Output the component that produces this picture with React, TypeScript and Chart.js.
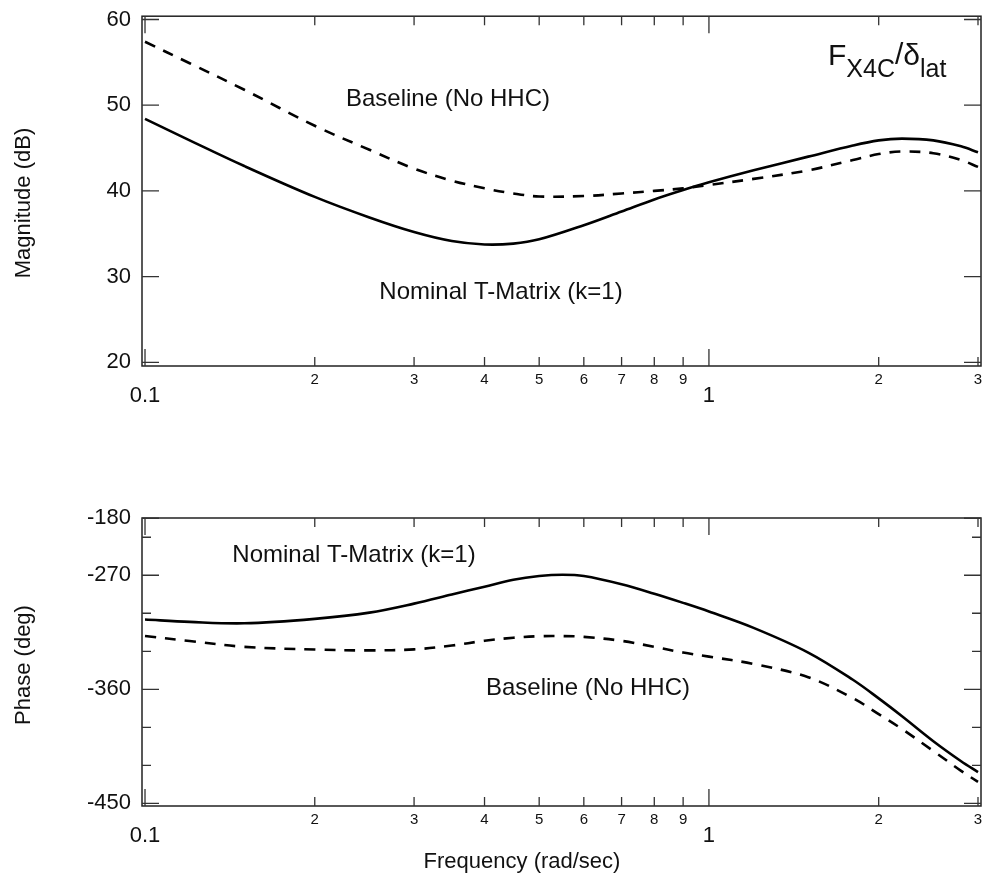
import React, { useEffect, useRef } from "react";
import { Chart, registerables } from "chart.js";

Chart.register(...registerables);

const FONT = '"Liberation Sans", Arial, Helvetica, sans-serif';

// ---------- data ----------
const magFreq = [0.1, 0.12, 0.15, 0.2, 0.25, 0.3, 0.35, 0.4, 0.45, 0.5, 0.6, 0.7, 0.8, 0.9, 1.0, 1.2, 1.5, 1.8, 2.0, 2.2, 2.5, 2.8, 3.0];
const magBaseline = [57.4, 54.9, 51.8, 47.6, 44.8, 42.6, 41.2, 40.3, 39.7, 39.35, 39.4, 39.7, 40.0, 40.3, 40.7, 41.4, 42.4, 43.6, 44.3, 44.6, 44.4, 43.6, 42.8];
const magNominal = [48.4, 45.9, 42.9, 39.3, 36.9, 35.2, 34.15, 33.75, 33.85, 34.35, 36.0, 37.6, 39.0, 40.1, 41.0, 42.4, 44.0, 45.3, 45.9, 46.1, 45.9, 45.2, 44.5];

const phaseFreq = [0.1, 0.12, 0.15, 0.2, 0.25, 0.3, 0.35, 0.4, 0.45, 0.5, 0.55, 0.6, 0.7, 0.8, 0.9, 1.0, 1.2, 1.5, 1.8, 2.0, 2.2, 2.5, 2.8, 3.0];
const phaseNominal = [-304.9, -306.8, -307.9, -304.4, -299.5, -292.4, -285.2, -279.0, -273.5, -270.6, -269.6, -270.6, -277.1, -284.6, -291.8, -298.6, -311.5, -331.0, -352.5, -367.2, -381.3, -401.0, -416.8, -425.4];
const phaseBaseline = [-318.0, -321.9, -326.5, -328.6, -329.3, -328.5, -325.5, -321.7, -319.3, -318.1, -318.0, -318.6, -321.8, -326.5, -331.0, -334.2, -340.0, -350.5, -367.0, -379.6, -391.4, -408.7, -424.4, -433.1];

// ---------- ticks ----------
const xTickValues = [0.1, 0.2, 0.3, 0.4, 0.5, 0.6, 0.7, 0.8, 0.9, 1, 2, 3];
const xTickLabels = ["0.1", "2", "3", "4", "5", "6", "7", "8", "9", "1", "2", "3"];
const xMajorTicks = [0.1, 1];

const magTickValues = [20, 30, 40, 50, 60];
const magTickLabels = ["20", "30", "40", "50", "60"];
const magMinorTicks: number[] = [];

const phaseTickValues = [-450, -360, -270, -225];
const phaseTickLabels = ["-450", "-360", "-270", "-180"];
const phaseMinorTicks = [-420, -390, -330, -300, -240];

const X_MIN = 0.09878;
const X_MAX = 3.037;

type TextItem = {
  text: string;
  x: number;
  y: number;
  size: number;
  rotate?: boolean;
  baseline?: CanvasTextBaseline;
};

const framePlugin = {
  id: "frame",
  afterDraw(chart: any, _args: any, opts: any) {
    const ctx: CanvasRenderingContext2D = chart.ctx;
    const { left, right, top, bottom } = chart.chartArea;
    const xs = chart.scales.x;
    const ys = chart.scales.y;
    ctx.save();
    // box
    ctx.strokeStyle = "#222";
    ctx.lineWidth = 1.5;
    ctx.strokeRect(left, top, right - left, bottom - top);

    // x ticks (bottom and top, pointing inward)
    ctx.strokeStyle = "#333";
    ctx.lineWidth = 1.3;
    xTickValues.forEach((v) => {
      const px = xs.getPixelForValue(v);
      const len = xMajorTicks.includes(v) ? 17 : 9;
      ctx.beginPath();
      ctx.moveTo(px, bottom);
      ctx.lineTo(px, bottom - len);
      ctx.moveTo(px, top);
      ctx.lineTo(px, top + len);
      ctx.stroke();
    });
    // y ticks
    const yMajor: number[] = opts.yMajor || [];
    const yMinor: number[] = opts.yMinor || [];
    const drawY = (v: number, len: number) => {
      const py = ys.getPixelForValue(v);
      ctx.beginPath();
      ctx.moveTo(left, py);
      ctx.lineTo(left + len, py);
      ctx.moveTo(right, py);
      ctx.lineTo(right - len, py);
      ctx.stroke();
    };
    yMajor.forEach((v) => drawY(v, 17));
    yMinor.forEach((v) => drawY(v, 9));

    // x tick labels
    ctx.fillStyle = "#111";
    ctx.textAlign = "center";
    ctx.textBaseline = "alphabetic";
    xTickValues.forEach((v, i) => {
      const px = xs.getPixelForValue(v);
      const major = xMajorTicks.includes(v);
      ctx.font = `${major ? 22 : 15}px ${FONT}`;
      ctx.fillText(xTickLabels[i], px, bottom + (major ? 35.7 : 17.5));
    });

    // free texts
    (opts.texts || []).forEach((t: TextItem) => {
      ctx.font = `${t.size}px ${FONT}`;
      ctx.textAlign = "center";
      ctx.textBaseline = t.baseline || "alphabetic";
      if (t.rotate) {
        ctx.save();
        ctx.translate(t.x, t.y);
        ctx.rotate(-Math.PI / 2);
        ctx.fillText(t.text, 0, 0);
        ctx.restore();
      } else {
        ctx.fillText(t.text, t.x, t.y);
      }
    });

    // composite title F_X4C / δ_lat
    if (opts.title) {
      let x = 828;
      const base = 65;
      const parts: [string, number, number][] = [
        ["F", 30, base],
        ["X4C", 25, base + 12],
        ["/", 30, base - 1],
        ["δ", 30, base],
        ["lat", 25, base + 12],
      ];
      ctx.textAlign = "left";
      ctx.textBaseline = "alphabetic";
      parts.forEach(([s, size, y]) => {
        ctx.font = `${size}px ${FONT}`;
        ctx.fillText(s, x, y);
        x += ctx.measureText(s).width;
      });
    }
    ctx.restore();
  },
};

function makeChart(
  canvas: HTMLCanvasElement,
  freq: number[],
  baseline: number[],
  nominal: number[],
  yMin: number,
  yMax: number,
  yTicks: number[],
  yLabels: string[],
  yMinor: number[],
  padding: { top: number; bottom: number },
  texts: TextItem[],
  title: boolean
) {
  return new Chart(canvas, {
    type: "line",
    data: {
      datasets: [
        {
          label: "Baseline (No HHC)",
          data: freq.map((f, i) => ({ x: f, y: baseline[i] })),
          borderColor: "#000",
          borderWidth: 2.6,
          borderDash: [11, 9],
          pointRadius: 0,
          tension: 0.35,
          fill: false,
        },
        {
          label: "Nominal T-Matrix (k=1)",
          data: freq.map((f, i) => ({ x: f, y: nominal[i] })),
          borderColor: "#000",
          borderWidth: 2.6,
          pointRadius: 0,
          tension: 0.35,
          fill: false,
        },
      ],
    },
    options: {
      responsive: false,
      maintainAspectRatio: false,
      animation: false,
      devicePixelRatio: 1,
      layout: { padding: { left: 0, right: 4, top: padding.top, bottom: padding.bottom } },
      plugins: {
        legend: { display: false },
        tooltip: { enabled: false },
        frame: { yMajor: yTicks, yMinor, texts, title },
      } as any,
      scales: {
        x: {
          type: "logarithmic",
          min: X_MIN,
          max: X_MAX,
          display: false,
        },
        y: {
          type: "linear",
          min: yMin,
          max: yMax,
          afterBuildTicks: (s: any) => {
            s.ticks = yTicks.map((v) => ({ value: v }));
          },
          afterFit: (s: any) => {
            s.width = 142;
          },
          ticks: {
            autoSkip: false,
            padding: 3,
            color: "#111",
            font: { family: FONT, size: 22 },
            callback: (v: any) => {
              const i = yTicks.indexOf(Number(v));
              return i >= 0 ? yLabels[i] : "";
            },
          },
          grid: { display: false },
          border: { display: false },
        },
      },
    },
    plugins: [framePlugin],
  });
}

export default function App() {
  const topRef = useRef<HTMLCanvasElement>(null);
  const botRef = useRef<HTMLCanvasElement>(null);

  useEffect(() => {
    const c1 = makeChart(
      topRef.current!,
      magFreq,
      magBaseline,
      magNominal,
      19.57,
      60.385,
      magTickValues,
      magTickLabels,
      magMinorTicks,
      { top: 16, bottom: 74 },
      [
        { text: "Baseline (No HHC)", x: 448, y: 106, size: 24 },
        { text: "Nominal T-Matrix (k=1)", x: 501, y: 298.5, size: 24 },
        { text: "Magnitude (dB)", x: 24, y: 203, size: 22, rotate: true, baseline: "middle" },
      ],
      true
    );
    const c2 = makeChart(
      botRef.current!,
      phaseFreq,
      phaseBaseline,
      phaseNominal,
      -452.13,
      -224.8,
      phaseTickValues,
      phaseTickLabels,
      phaseMinorTicks,
      { top: 78, bottom: 86 },
      [
        { text: "Nominal T-Matrix (k=1)", x: 354, y: 122.3, size: 24 },
        { text: "Baseline (No HHC)", x: 588, y: 255, size: 24 },
        { text: "Phase (deg)", x: 24, y: 225, size: 22, rotate: true, baseline: "middle" },
        { text: "Frequency (rad/sec)", x: 522, y: 422, size: 22, baseline: "middle" },
      ],
      false
    );
    return () => {
      c1.destroy();
      c2.destroy();
    };
  }, []);

  return (
    <div style={{ position: "absolute", left: 0, top: 0, width: 985, height: 892, background: "#fff" }}>
      <canvas ref={topRef} width={985} height={440} style={{ position: "absolute", left: 0, top: 0, display: "block" }} />
      <canvas ref={botRef} width={985} height={452} style={{ position: "absolute", left: 0, top: 440, display: "block" }} />
    </div>
  );
}
